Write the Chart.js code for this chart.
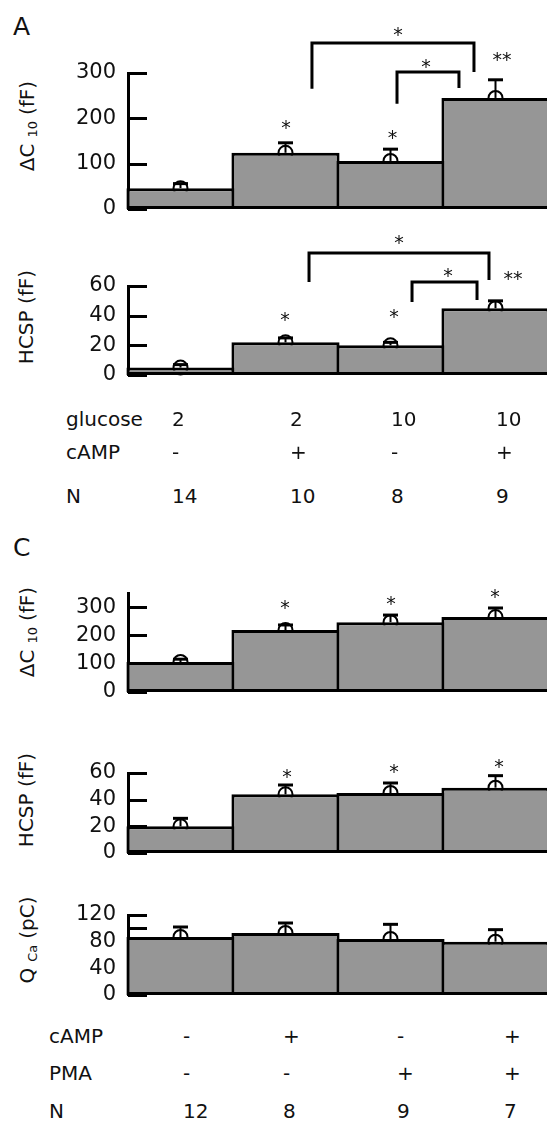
<!DOCTYPE html>
<html>
<head>
<meta charset="utf-8">
<script src="https://cdn.jsdelivr.net/npm/chart.js@4.4.0/dist/chart.umd.min.js"></script>
<style>
  html, body { margin: 0; padding: 0; background: #fff; }
  body { width: 547px; height: 1123px; position: relative; overflow: hidden; font-family: "DejaVu Sans", sans-serif; color: #111; }
  canvas { position: absolute; left: 0; }
  .txt { position: absolute; font-size: 20px; line-height: 1; white-space: nowrap; }
  .letter { position: absolute; font-size: 25px; line-height: 1; }
  .ytitle { position: absolute; font-size: 20px; line-height: 1; white-space: nowrap; transform: translate(-50%, -50%) rotate(-90deg); }
  .ytitle sub { font-size: 13px; vertical-align: -3px; margin: 0 6px 0 6px; }
</style>
</head>
<body>

<div class="letter" style="left:13px; top:14px;">A</div>
<div class="letter" style="left:13px; top:535px;">C</div>

<div class="ytitle" style="left:28px; top:126px;">ΔC<sub>10</sub>(fF)</div>
<div class="ytitle" style="left:26px; top:317px;">HCSP (fF)</div>
<div class="ytitle" style="left:28px; top:632px;">ΔC<sub>10</sub>(fF)</div>
<div class="ytitle" style="left:26px; top:800px;">HCSP (fF)</div>
<div class="ytitle" style="left:28px; top:940px;">Q<sub>Ca</sub>(pC)</div>

<canvas id="dcA" width="560" height="235" style="top:0px"></canvas>
<canvas id="hcspA" width="560" height="176" style="top:225px"></canvas>
<canvas id="dcC" width="560" height="158" style="top:560px"></canvas>
<canvas id="hcspC" width="560" height="139" style="top:740px"></canvas>
<canvas id="qcaC" width="560" height="136" style="top:885px"></canvas>

<div id="tables"></div>

<script>
// four conditions per panel
const groups = ['1', '2', '3', '4'];

// panel A: glucose / cAMP
const dcA = [46, 124, 106, 245];
const dcAErr = [10, 22, 26, 40];
const hcspA = [5, 22, 20, 45];
const hcspAErr = [2, 3, 2, 5];

// panel C: cAMP / PMA
const dcC = [106, 219, 247, 265];
const dcCErr = [10, 18, 25, 32];
const hcspC = [20, 44, 45, 49];
const hcspCErr = [6, 7, 7.5, 9];
const qcaC = [87, 93, 84, 80];
const qcaCErr = [15, 15, 22, 18];

// y ticks
const ticks300 = [0, 100, 200, 300];
const ticks60 = [0, 20, 40, 60];
const ticks120 = [0, 20, 40, 60, 80, 100, 120];
const labels120 = [0, 40, 80, 120];

// significance marks: [category position, value, text]
const starsDcA = [[1.005, 190, '*'], [2.02, 168, '*'], [3.062, 340, '**'], [2.071, 395, '*'], [2.338, 324, '*']];
const starsHcspA = [[0.995, 40.4, '*'], [2.033, 42.5, '*'], [3.167, 68.1, '**'], [2.081, 92.4, '*'], [2.548, 70.1, '*']];
const starsDcC = [[0.995, 314, '*'], [2.005, 328, '*'], [2.995, 353, '*']];
const starsHcspC = [[1.014, 60.8, '*'], [2.033, 64.5, '*'], [3.033, 68.3, '*']];

// brackets: [from, to, top value, left end value, right end value]
const bracketsDcA = [[1.252, 2.795, 366, 265, 302], [2.062, 2.652, 302, 232, 267]];
const bracketsHcspA = [[1.224, 2.938, 82.2, 62.7, 64.0], [2.205, 2.824, 62.7, 49.2, 50.6]];

// condition tables
const glucoseA = ['2', '2', '10', '10'];
const campA = ['-', '+', '-', '+'];
const nA = ['14', '10', '8', '9'];
const campC = ['-', '+', '-', '+'];
const pmaC = ['-', '-', '+', '+'];
const nC = ['12', '8', '9', '7'];

const FONT = '"DejaVu Sans", sans-serif';

function makePanel(id, values, errors, yMax, tickVals, labelVals, stars, brackets, pad) {
    const marks = {
        id: 'marks_' + id,
        beforeDatasetsDraw(chart) {
            const { ctx, chartArea, scales: { x, y } } = chart;
            ctx.save();
            ctx.strokeStyle = '#000';
            ctx.lineWidth = 3;
            // ticks point into the plot
            tickVals.forEach(v => {
                const py = Math.round(y.getPixelForValue(v)) + 0.5;
                ctx.beginPath();
                ctx.moveTo(chartArea.left, py);
                ctx.lineTo(chartArea.left + 19, py);
                ctx.stroke();
            });
            // mean circle + SE bar, lower half gets covered by the bar
            values.forEach((v, i) => {
                const px = x.getPixelForValue(i);
                const pm = y.getPixelForValue(v);
                const pe = y.getPixelForValue(v + errors[i]);
                ctx.lineWidth = 2;
                ctx.fillStyle = '#fff';
                ctx.beginPath();
                ctx.arc(px, pm, 7, 0, Math.PI * 2);
                ctx.fill();
                ctx.stroke();
                ctx.beginPath();
                ctx.moveTo(px, pm);
                ctx.lineTo(px, pe);
                ctx.stroke();
                ctx.lineWidth = 3;
                ctx.beginPath();
                ctx.moveTo(px - 7.5, pe);
                ctx.lineTo(px + 7.5, pe);
                ctx.stroke();
            });
            ctx.restore();
        },
        afterDatasetsDraw(chart) {
            const { ctx, scales: { x, y } } = chart;
            ctx.save();
            ctx.strokeStyle = '#000';
            ctx.lineWidth = 3;
            brackets.forEach(b => {
                const x0 = x.getPixelForValue(b[0]), x1 = x.getPixelForValue(b[1]);
                ctx.beginPath();
                ctx.moveTo(x0, y.getPixelForValue(b[3]));
                ctx.lineTo(x0, y.getPixelForValue(b[2]));
                ctx.lineTo(x1, y.getPixelForValue(b[2]));
                ctx.lineTo(x1, y.getPixelForValue(b[4]));
                ctx.stroke();
            });
            ctx.fillStyle = '#111';
            ctx.font = '19px ' + FONT;
            ctx.textAlign = 'center';
            ctx.textBaseline = 'alphabetic';
            stars.forEach(s => {
                ctx.fillText(s[2], x.getPixelForValue(s[0]), y.getPixelForValue(s[1]) + 11);
            });
            ctx.restore();
        }
    };

    new Chart(document.getElementById(id), {
        type: 'bar',
        data: {
            labels: groups,
            datasets: [{
                data: values,
                backgroundColor: '#969696',
                borderColor: '#000',
                borderWidth: 3,
                borderSkipped: false,
                barPercentage: 1.03,
                categoryPercentage: 1,
                clip: false
            }]
        },
        options: {
            responsive: false,
            devicePixelRatio: 1,
            animation: false,
            events: [],
            layout: { padding: { left: 0, right: 12, top: pad[0], bottom: pad[1] } },
            plugins: { legend: { display: false }, tooltip: { enabled: false } },
            scales: {
                x: { display: false, offset: true },
                y: {
                    min: 0,
                    max: yMax,
                    border: { display: true, color: '#000', width: 3 },
                    grid: { display: false, drawTicks: false },
                    ticks: {
                        color: '#111',
                        padding: 12,
                        autoSkip: false,
                        font: { family: FONT, size: 21 },
                        callback: v => labelVals.includes(v) ? String(v) : ''
                    },
                    afterBuildTicks: s => { s.ticks = tickVals.map(v => ({ value: v })); },
                    afterFit: s => { s.width = 128; }
                }
            }
        },
        plugins: [marks]
    });
}

makePanel('dcA', dcA, dcAErr, 300, ticks300, ticks300, starsDcA, bracketsDcA, [73, 26]);
makePanel('hcspA', hcspA, hcspAErr, 60, ticks60, ticks60, starsHcspA, bracketsHcspA, [61, 26]);
makePanel('dcC', dcC, dcCErr, 350, ticks300, ticks300, starsDcC, [], [33, 26]);
makePanel('hcspC', hcspC, hcspCErr, 60, ticks60, ticks60, starsHcspC, [], [33, 26]);
makePanel('qcaC', qcaC, qcaCErr, 120, ticks120, labels120, [], [], [30, 26]);

// condition rows under each panel
function addRow(label, cells, labelX, colX, top) {
    const box = document.getElementById('tables');
    const lab = document.createElement('div');
    lab.className = 'txt';
    lab.style.left = labelX + 'px';
    lab.style.top = top + 'px';
    lab.textContent = label;
    box.appendChild(lab);
    cells.forEach((c, i) => {
        const d = document.createElement('div');
        d.className = 'txt';
        d.style.left = colX[i] + 'px';
        d.style.top = top + 'px';
        d.textContent = c;
        box.appendChild(d);
    });
}

const colsA = [172, 290, 391, 496];
const colsC = [183, 283, 397, 504];
addRow('glucose', glucoseA, 66, colsA, 409);
addRow('cAMP', campA, 66, colsA, 442);
addRow('N', nA, 66, colsA, 486);
addRow('cAMP', campC, 49, colsC, 1026);
addRow('PMA', pmaC, 49, colsC, 1063);
addRow('N', nC, 49, colsC, 1101);
</script>
</body>
</html>
